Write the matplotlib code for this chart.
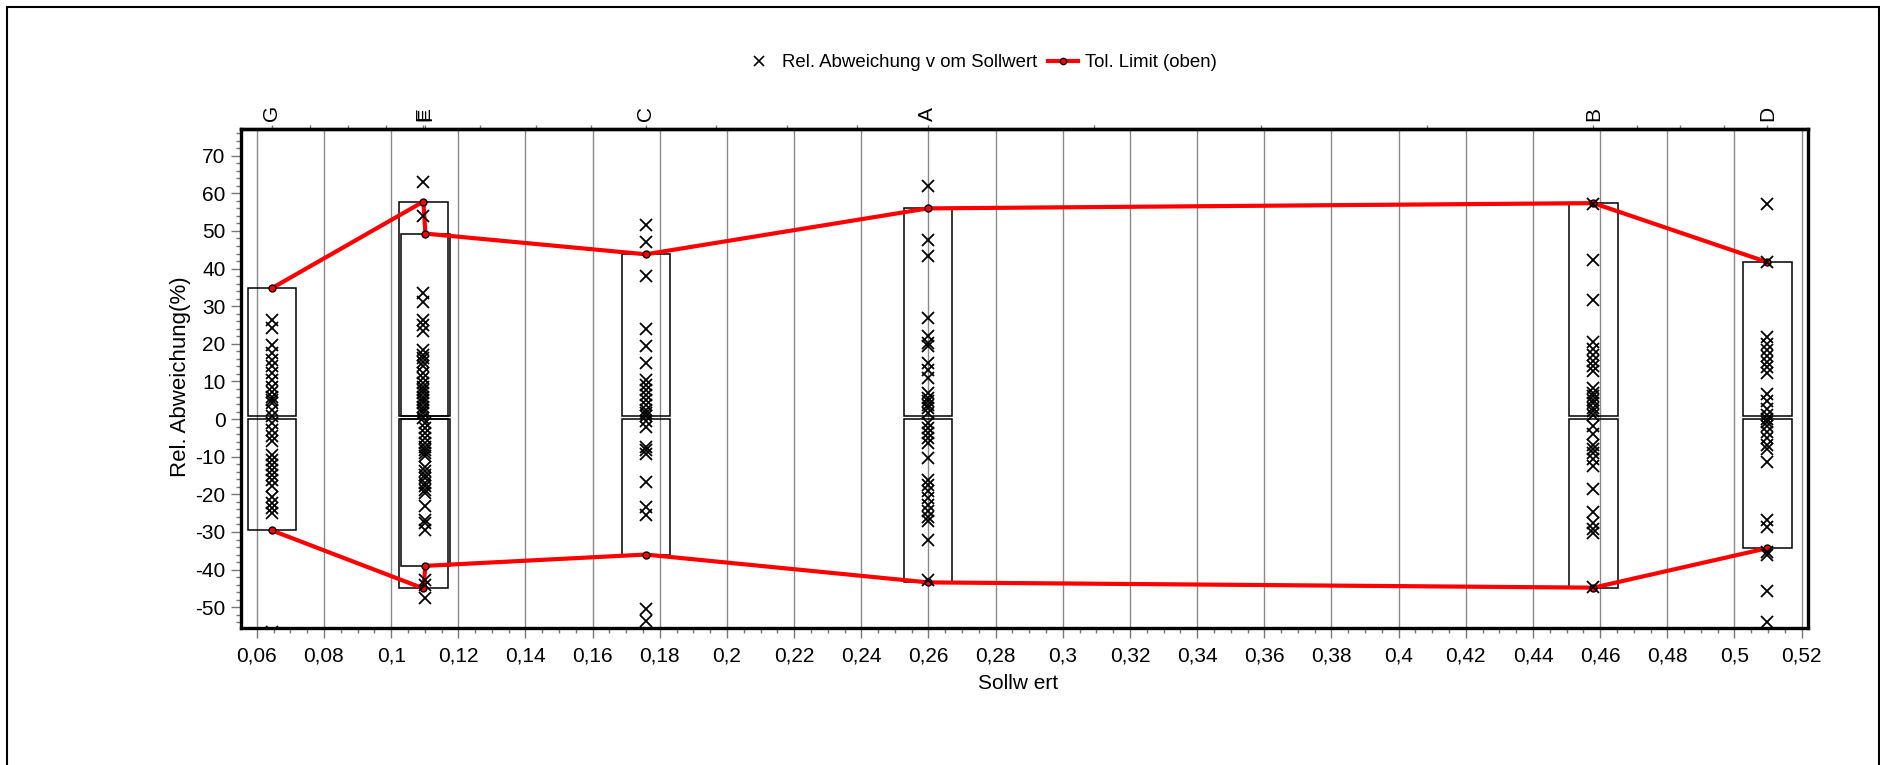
import numpy as np
import matplotlib
matplotlib.use("Agg")
import matplotlib.pyplot as plt
from matplotlib.patches import Rectangle
from matplotlib.lines import Line2D
from matplotlib.ticker import FixedLocator, MultipleLocator, FuncFormatter

plt.rcParams['font.family'] = ['Liberation Sans', 'DejaVu Sans']
plt.rcParams['axes.unicode_minus'] = False

# ---------------- data ----------------
categories = ['G', 'E', 'F', 'C', 'A', 'B', 'D']
sollwert = [0.0645, 0.1096, 0.1102, 0.1758, 0.2598, 0.4580, 0.5098]
tol_upper = [34.8, 57.8, 49.3, 43.8, 56.0, 57.4, 41.7]
tol_lower = [-29.6, -45.0, -39.0, -36.0, -43.4, -44.8, -34.3]

pts_G = [26.3, 24.1, 19.7, 17.5, 15.7, 14.0, 12.2, 10.4, 8.6, 7.3, 6.0, 5.1, 4.2,
         2.5, 0.7, -1.1, -2.9, -4.6, -5.9, -9.5, -10.8, -12.2, -13.5, -14.8,
         -16.1, -17.9, -20.6, -22.3, -23.7, -25.0, -56.5]
pts_E = [63.1, 54.0, 33.4, 31.2, 26.3, 25.0, 23.3, 18.4, 17.1, 16.2, 15.3, 14.0,
         12.2, 10.9, 9.5, 8.6, 7.7, 6.9, 6.0, 5.1, 4.2, 3.3, 2.5, 1.6, 0.3]
pts_F = [-1.1, -2.4, -3.7, -5.1, -6.4, -7.3, -8.2, -9.0, -9.9, -12.6, -13.9,
         -14.8, -15.7, -17.0, -17.9, -18.8, -19.7, -23.2, -26.7, -27.6, -29.4,
         -42.7, -44.0, -47.5]
pts_C = [51.6, 47.2, 37.9, 23.9, 19.3, 14.9, 10.4, 9.1, 7.8, 6.4, 5.1, 3.8, 2.5,
         1.6, 0.7, -0.6, -2.0, -7.3, -8.2, -9.2, -16.7, -23.4, -25.6, -50.4, -53.6]
pts_A = [61.9, 47.6, 43.4, 26.8, 22.1, 20.2, 19.3, 14.9, 13.1, 10.9, 6.9, 5.6,
         4.7, 3.8, 2.9, 1.6, -1.1, -2.4, -3.7, -5.1, -6.4, -10.4, -16.1, -17.4,
         -19.2, -21.0, -22.8, -24.5, -25.9, -27.2, -32.1, -42.7]
pts_B = [57.2, 42.3, 31.7, 20.4, 18.5, 17.0, 15.5, 14.0, 12.8, 8.2, 7.0, 6.2, 5.0,
         4.2, 3.0, 2.2, 1.1, -1.9, -3.9, -7.0, -8.0, -9.0, -10.5, -12.5, -18.6,
         -24.6, -27.6, -29.2, -30.2, -44.6]
pts_D = [57.1, 41.8, 21.9, 19.9, 18.3, 16.8, 15.1, 13.8, 12.3, 6.7, 4.7, 2.7, 1.1,
         0.1, -0.9, -1.9, -3.4, -4.9, -7.0, -8.0, -11.5, -26.7, -28.7, -35.3,
         -36.2, -45.6, -54.0]
points = [pts_G, pts_E, pts_F, pts_C, pts_A, pts_B, pts_D]

x_ticks = [0.06, 0.08, 0.10, 0.12, 0.14, 0.16, 0.18, 0.20, 0.22, 0.24, 0.26, 0.28,
           0.30, 0.32, 0.34, 0.36, 0.38, 0.40, 0.42, 0.44, 0.46, 0.48, 0.50, 0.52]
y_ticks = [-50, -40, -30, -20, -10, 0, 10, 20, 30, 40, 50, 60, 70]

legend_points = 'Rel. Abweichung v om Sollwert'
legend_limit = 'Tol. Limit (oben)'
xlabel = 'Sollw ert'
ylabel = 'Rel. Abweichung(%)'

# ---------------- figure ----------------
W, H, DPI = 1881, 765, 100
fig = plt.figure(figsize=(W / DPI, H / DPI), dpi=DPI)
L, R, T, B = 240.7, 1807.7, 129.0, 628.3
ax = fig.add_axes([L / W, 1 - B / H, (R - L) / W, (B - T) / H])
ax.set_xlim(0.0552, 0.5218)
ax.set_ylim(-55.6, 77.1)

# outer frame
fig.add_artist(Rectangle((7 / W, -0.05), (1879 - 7) / W, 1.05 - 7 / H,
                         transform=fig.transFigure, fill=False,
                         edgecolor='black', lw=1.5))

# grid
for xv in x_ticks:
    ax.axvline(xv, color='#8a8a8a', lw=1.0, zorder=0)

# boxes
half_w = 0.0072
gap = 0.7
for xc, up, lo in zip(sollwert, tol_upper, tol_lower):
    ax.add_patch(Rectangle((xc - half_w, gap), 2 * half_w, up - gap, fill=False,
                           edgecolor='black', lw=1.1, zorder=2))
    ax.add_patch(Rectangle((xc - half_w, lo), 2 * half_w, -lo, fill=False,
                           edgecolor='black', lw=1.1, zorder=2))

# crosses
for xc, pts in zip(sollwert, points):
    ax.plot([xc] * len(pts), pts, linestyle='none', marker='x', color='black',
            markersize=8.7, markeredgewidth=1.3, zorder=4)

# tolerance limits
for lim in (tol_upper, tol_lower):
    ax.plot(sollwert, lim, color='#ff0000', lw=3.0, marker='o', markersize=5,
            markerfacecolor='#ff0000', markeredgecolor='black',
            markeredgewidth=1.0, zorder=3)

# spines
for s in ax.spines.values():
    s.set_linewidth(2.4)
    s.set_color('black')
    s.set_zorder(5)

# bottom / left axis ticks
ax.xaxis.set_major_locator(FixedLocator(x_ticks))
ax.xaxis.set_minor_locator(MultipleLocator(0.005))
ax.xaxis.set_major_formatter(FuncFormatter(
    lambda v, p: ('%g' % round(v, 2)).replace('.', ',')))
ax.yaxis.set_major_locator(FixedLocator(y_ticks))
ax.yaxis.set_minor_locator(MultipleLocator(2))
ax.tick_params(axis='both', which='major', direction='out', length=7,
               width=1.0, color='#777777', labelsize=15, pad=4)
ax.tick_params(axis='both', which='minor', direction='out', length=3.5,
               width=1.0, color='#777777')
ax.tick_params(axis='x', which='major', pad=6)

ax.set_xlabel(xlabel, fontsize=15)
ax.set_ylabel(ylabel, fontsize=16)
ax.xaxis.set_label_coords(0.496, -0.092)
ax.yaxis.set_label_coords(-0.032, 0.503)

# top category axis
top = ax.secondary_xaxis('top')
top.set_xticks(sollwert)
top.set_xticklabels(categories, rotation=90, fontsize=15)
minor_top = []
for a, b in zip(sollwert[:-1], sollwert[1:]):
    if b - a > 0.01:
        minor_top += [a + (b - a) * k / 4 for k in (1, 2, 3)]
top.xaxis.set_minor_locator(FixedLocator(minor_top))
top.tick_params(axis='x', which='both', direction='out', length=3,
                width=1.0, color='#777777', pad=3)
top.spines['top'].set_linewidth(2.4)

# legend
h1 = Line2D([], [], linestyle='none', marker='x', color='black',
            markersize=7, markeredgewidth=1.2)
h2 = Line2D([], [], color='#ff0000', lw=3, marker='o', markersize=4.5,
            markerfacecolor='#ff0000', markeredgecolor='black')
fig.legend([h1, h2], [legend_points, legend_limit], loc='center',
           bbox_to_anchor=(0.5215, 0.918), ncol=2, frameon=False, fontsize=13.4,
           handlelength=1.6, handletextpad=0.4, columnspacing=0.6)

fig.savefig('out.png', dpi=DPI, facecolor='white')
